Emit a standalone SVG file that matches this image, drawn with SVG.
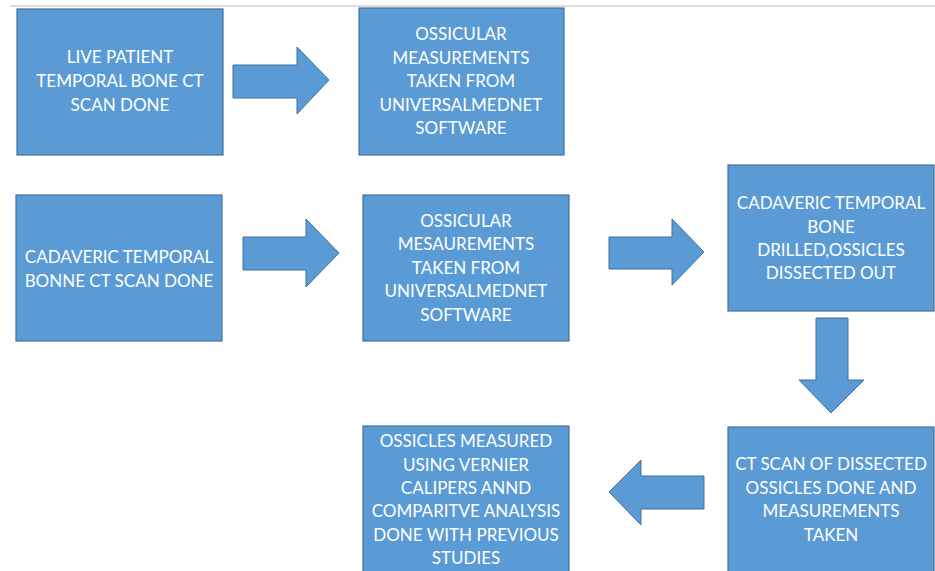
<svg xmlns="http://www.w3.org/2000/svg" width="935" height="571" viewBox="0 0 935 571">
<style>
.box{fill:#5B9BD5;stroke:#41719C;stroke-width:1.2}
.arr{fill:#5B9BD5;stroke:#41719C;stroke-width:1}
text{font-family:Lato,"Open Sans",sans-serif;font-size:17px;fill:#fff;text-anchor:middle}
</style>
<rect x="0" y="0" width="935" height="571" fill="#fff"/>
<line x1="10" y1="6" x2="935" y2="6" stroke="#dcdcdc" stroke-width="2"/>
<g id="n1"><rect class="box" x="17" y="9" width="206" height="146"/>
<text x="120" y="63">LIVE PATIENT</text><text x="120" y="87">TEMPORAL BONE CT</text><text x="120" y="111">SCAN DONE</text></g>
<g id="n2"><rect class="box" x="359" y="8" width="205" height="147"/>
<text x="461" y="40">OSSICULAR</text><text x="461" y="64">MEASUREMENTS</text><text x="461" y="87">TAKEN FROM</text><text x="461" y="111">UNIVERSALMEDNET</text><text x="461" y="134">SOFTWARE</text></g>
<g id="n3"><rect class="box" x="16" y="195" width="206" height="146"/>
<text x="119" y="263">CADAVERIC TEMPORAL</text><text x="119" y="287">BONNE CT SCAN DONE</text></g>
<g id="n4"><rect class="box" x="363" y="195" width="206" height="146"/>
<text x="466" y="227">OSSICULAR</text><text x="466" y="250">MESAUREMENTS</text><text x="466" y="274">TAKEN FROM</text><text x="466" y="297">UNIVERSALMEDNET</text><text x="466" y="321">SOFTWARE</text></g>
<g id="n5"><rect class="box" x="728" y="165" width="206" height="146"/>
<text x="831" y="209">CADAVERIC TEMPORAL</text><text x="831" y="233">BONE</text><text x="831" y="256">DRILLED,OSSICLES</text><text x="831" y="279">DISSECTED OUT</text></g>
<g id="n6"><rect class="box" x="728" y="427" width="206" height="150"/>
<text x="831" y="470">CT SCAN OF DISSECTED</text><text x="831" y="494">OSSICLES DONE AND</text><text x="831" y="517">MEASUREMENTS</text><text x="831" y="541">TAKEN</text></g>
<g id="n7"><rect class="box" x="363" y="426" width="206" height="150"/>
<text x="466" y="447">OSSICLES MEASURED</text><text x="466" y="471">USING VERNIER</text><text x="466" y="494">CALIPERS ANND</text><text x="466" y="517">COMPARITVE ANALYSIS</text><text x="466" y="541">DONE WITH PREVIOUS</text><text x="466" y="564">STUDIES</text></g>
<g id="connectors">
<polygon class="arr" points="233,65 297,65 297,47 329,80 297,114 297,98 233,98"/>
<polygon class="arr" points="243,237 306,237 306,219 339,253 306,287 306,270 243,270"/>
<polygon class="arr" points="609,237 672,237 672,219 704,252 672,285 672,269 609,269"/>
<polygon class="arr" points="816,318 848,318 848,380 864,380 831,413 799,380 816,380"/>
<polygon class="arr" points="704,476 641,476 641,460 609,492 641,525 641,509 704,509"/>
</g>
</svg>
